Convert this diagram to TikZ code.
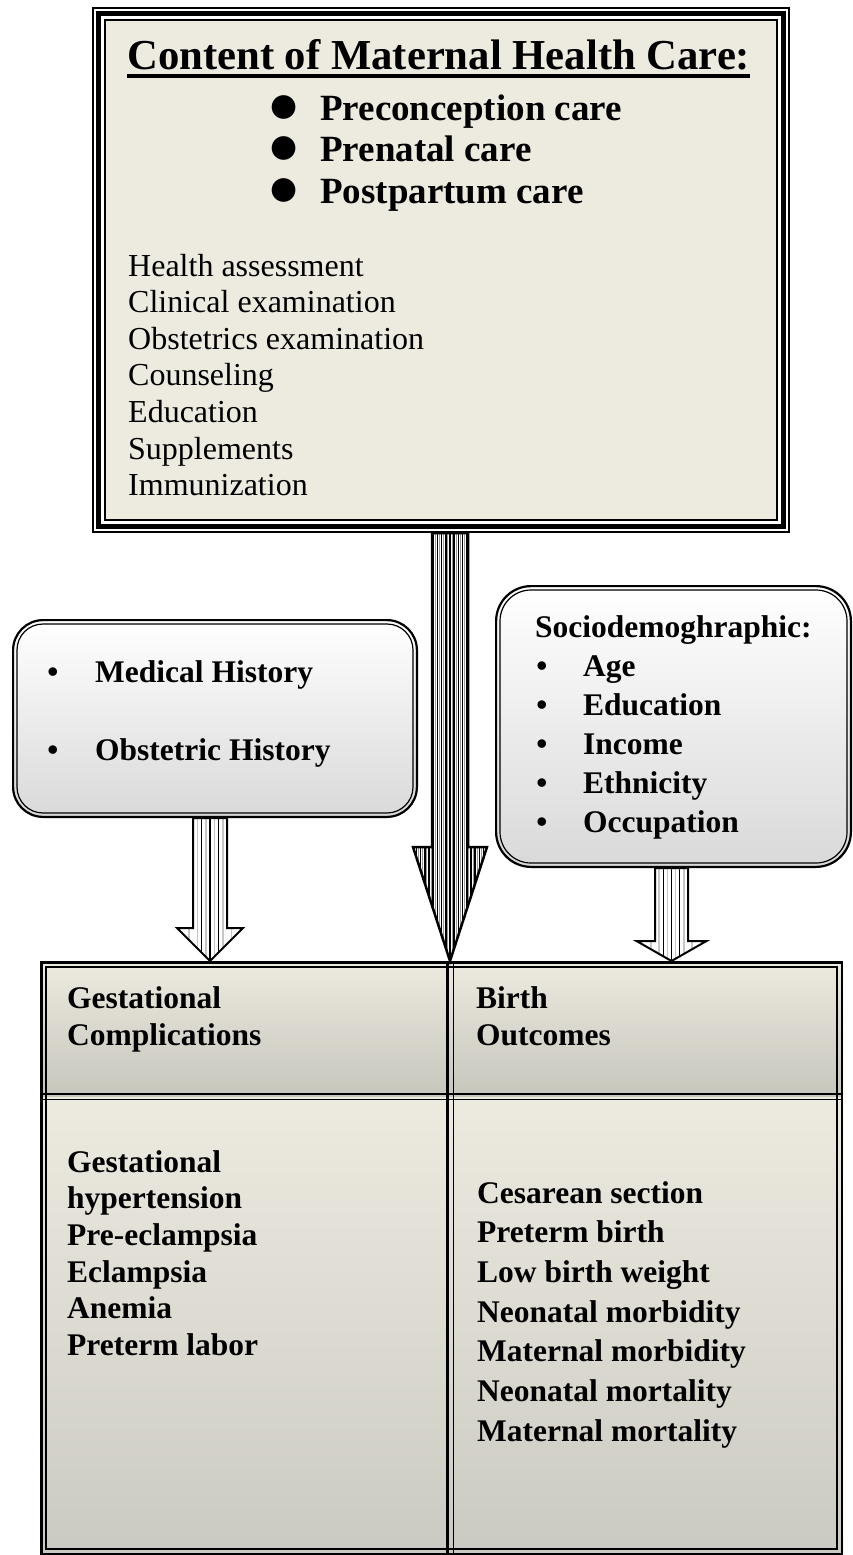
\documentclass[tikz,border=0pt]{standalone}
\usepackage{fontspec}
\setmainfont{Liberation Serif}
\newfontfamily\symfont{DejaVu Sans}
\usetikzlibrary{calc}
\definecolor{beige}{HTML}{EDEAE0}
\definecolor{cellbot}{HTML}{CBCAC2}
\definecolor{headbot}{HTML}{C7C6BC}
\definecolor{boxbot}{HTML}{D9D9D9}
\newcommand\myul[1]{\setbox0\hbox{#1}\rlap{\rule[-8.5pt]{\wd0}{4pt}}\box0}
\newcommand\arrowpath[5]{let \p1=(#1), \p2=(#2) in (\x1-#3,\y1) -- (\x1-#3,\y2+#5) -- (\x1-#4,\y2+#5) -- (\x2,\y2) -- (\x1+#4,\y2+#5) -- (\x1+#3,\y2+#5) -- (\x1+#3,\y1) -- cycle}
\begin{document}
\begin{tikzpicture}[x=1pt,y=-1pt,
  blk/.style={inner sep=0pt, outer sep=0pt, rectangle},
  bigtxt/.style={font=\bfseries\fontsize{37}{42}\selectfont, anchor=base west, inner sep=0pt},
  plaintxt/.style={font=\fontsize{32}{36.6}\selectfont, anchor=base west, inner sep=0pt},
  btxt/.style={font=\bfseries\fontsize{31.5}{38}\selectfont, anchor=base west, inner sep=0pt},
  bulbig/.style={font=\symfont\fontsize{31}{31}\selectfont, anchor=center, inner sep=0pt},
  bulsm/.style={font=\bfseries\fontsize{31.5}{38}\selectfont, anchor=base, inner sep=0pt},
  arrowline/.style={line width=2.5pt, line join=miter},
]
\useasboundingbox (0,0) rectangle (853,1555);

% ---------- top box ----------
\node[blk, anchor=north west, minimum width=698pt, minimum height=526pt] (top) at (92,7) {};
\fill[beige] ([shift={(13,13)}]top.north west) rectangle ([shift={(-13,-13)}]top.south east);
\draw[line width=2pt] ([shift={(1,1)}]top.north west) rectangle ([shift={(-1,-1)}]top.south east);
\draw[line width=5pt] ([shift={(6.5,6.5)}]top.north west) rectangle ([shift={(-6.5,-6.5)}]top.south east);
\draw[line width=1.5pt] ([shift={(13,13)}]top.north west) rectangle ([shift={(-13,-13)}]top.south east);

\node[font=\bfseries\fontsize{42.7}{50}\selectfont, anchor=base west, inner sep=0pt] (title) at (127,70) {\myul{Content of Maternal Health Care:}};
\foreach \t/\y [count=\i] in {Preconception care/120, Prenatal care/161, Postpartum care/203}{
  \node[bulbig] (tb\i) at (284,\y-13) {●};
  \node[bigtxt] (tt\i) at (320,\y) {\t};
}
\foreach \t [count=\i] in {Health assessment, Clinical examination, Obstetrics examination, Counseling, Education, Supplements, Immunization}{
  \node[plaintxt] (pl\i) at (128,{276+36.6*(\i-1)}) {\t};
}

% ---------- left rounded box ----------
\node[blk, anchor=north west, minimum width=406pt, minimum height=199pt] (lbox) at (12,619) {};
\draw[line width=2.2pt, rounded corners=30pt, top color=white, bottom color=boxbot] ([shift={(1.1,1.1)}]lbox.north west) rectangle ([shift={(-1.1,-1.1)}]lbox.south east);
\draw[line width=1.2pt, rounded corners=26pt] ([shift={(5,5)}]lbox.north west) rectangle ([shift={(-5,-5)}]lbox.south east);
\foreach \t/\y [count=\i] in {Medical History/682, Obstetric History/760}{
  \node[bulsm] (lb\i) at (53,\y) {•};
  \node[btxt] (lt\i) at (95,\y) {\t};
}

% ---------- right rounded box ----------
\node[blk, anchor=north west, minimum width=357pt, minimum height=283pt] (rbox) at (495,585) {};
\draw[line width=2.2pt, rounded corners=35pt, top color=white, bottom color=boxbot] ([shift={(1.1,1.1)}]rbox.north west) rectangle ([shift={(-1.1,-1.1)}]rbox.south east);
\draw[line width=1.2pt, rounded corners=31pt] ([shift={(5,5)}]rbox.north west) rectangle ([shift={(-5,-5)}]rbox.south east);
\node[btxt] (socio) at (535,637) {Sociodemoghraphic:};
\foreach \t/\y [count=\i] in {Age/676, Education/715, Income/754, Ethnicity/793, Occupation/832}{
  \node[bulsm] (rb\i) at (542,\y) {•};
  \node[btxt] (rt\i) at (583,\y) {\t};
}

% ---------- table ----------
\node[blk, anchor=north west, minimum width=803pt, minimum height=594pt] (tbl) at (40,961) {};
\node[blk, anchor=north west, minimum width=410pt, minimum height=136pt, top color=beige, bottom color=headbot] (gc) at (40,961) {};
\node[blk, anchor=north west, minimum width=393pt, minimum height=136pt, top color=beige, bottom color=headbot] (bo) at (450,961) {};
\node[blk, anchor=north west, minimum width=410pt, minimum height=458pt, top color=beige, bottom color=cellbot] (gl) at (40,1097) {};
\node[blk, anchor=north west, minimum width=393pt, minimum height=458pt, top color=beige, bottom color=cellbot] (bl) at (450,1097) {};
\draw[line width=2.5pt] ([shift={(1.25,1.25)}]tbl.north west) rectangle ([shift={(-1.25,-1.25)}]tbl.south east);
\draw[line width=1.3pt] ([shift={(6,6)}]tbl.north west) rectangle ([shift={(-6,-6)}]tbl.south east);
\draw[line width=2.2pt] ([xshift=-2.5pt]gc.north east) -- ([xshift=-2.5pt]gl.south east);
\draw[line width=1.3pt] ([xshift=3.5pt]gc.north east) -- ([xshift=3.5pt]gl.south east);
\draw[line width=2.2pt] ([yshift=3pt]gc.south west) -- ([yshift=3pt]bo.south east);
\draw[line width=1.3pt] ([yshift=-2.5pt]gc.south west) -- ([yshift=-2.5pt]bo.south east);

\node[btxt] (gch1) at (67,1008) {Gestational};
\node[btxt] (gch2) at (67,1045) {Complications};
\node[btxt] (boh1) at (476,1008) {Birth};
\node[btxt] (boh2) at (476,1045) {Outcomes};
\foreach \t [count=\i] in {Gestational, hypertension, Pre-eclampsia, Eclampsia, Anemia, Preterm labor}{
  \node[btxt] (gi\i) at (67,{1172+36.7*(\i-1)}) {\t};
}
\foreach \t [count=\i] in {Cesarean section, Preterm birth, Low birth weight, Neonatal morbidity, Maternal morbidity, Neonatal mortality, Maternal mortality}{
  \node[btxt] (bi\i) at (477,{1203+39.7*(\i-1)}) {\t};
}

% ---------- arrows ----------
\coordinate (b0) at ($(top.south)+(9,0)$);
\coordinate (btip) at (b0 |- tbl.north);
\coordinate (l0) at ($(lbox.south)+(-5,0)$);
\coordinate (ltip) at (l0 |- tbl.north);
\coordinate (r0) at ($(rbox.south)+(-2,0)$);
\coordinate (rtip) at (r0 |- tbl.north);

% big arrow
\begin{scope}
  \clip \arrowpath{b0}{btip}{18}{37}{114};
  \fill[white] ([xshift=-40pt]b0) rectangle ([xshift=40pt]btip);
  \foreach \i in {-37.8,-33.6,...,38}{
    \draw[line width=1.7pt] ([xshift=\i pt]b0) -- ([xshift=\i pt]btip);
    \draw[line width=1pt, gray!80] ([xshift=\i pt+2.1pt]b0) -- ([xshift=\i pt+2.1pt]btip);
  }
\end{scope}
\draw[arrowline] \arrowpath{b0}{btip}{18}{37}{114};

% left arrow
\begin{scope}
  \clip \arrowpath{l0}{ltip}{17}{33}{33};
  \fill[white] ([xshift=-40pt]l0) rectangle ([xshift=40pt]ltip);
  \foreach \i in {-8.5,0,8.5}{
    \draw[line width=1.3pt] ([xshift=\i pt]l0) -- ([xshift=\i pt]ltip);
  }
  \foreach \i in {-12.75,-4.25,4.25,12.75,-21.25,21.25}{
    \draw[line width=1.5pt, gray!45] ([xshift=\i pt]l0) -- ([xshift=\i pt]ltip);
  }
\end{scope}
\draw[arrowline, line width=2pt] \arrowpath{l0}{ltip}{17}{33}{33};

% right arrow
\begin{scope}
  \clip \arrowpath{r0}{rtip}{16.5}{35}{20};
  \fill[white] ([xshift=-40pt]r0) rectangle ([xshift=40pt]rtip);
  \foreach \i in {-8.25,0,8.25}{
    \draw[line width=1.3pt] ([xshift=\i pt]r0) -- ([xshift=\i pt]rtip);
  }
  \foreach \i in {-12.4,-4.1,4.1,12.4,-20.6,20.6}{
    \draw[line width=1.5pt, gray!45] ([xshift=\i pt]r0) -- ([xshift=\i pt]rtip);
  }
\end{scope}
\draw[arrowline, line width=2pt] \arrowpath{r0}{rtip}{16.5}{35}{20};
\end{tikzpicture}
\end{document}
